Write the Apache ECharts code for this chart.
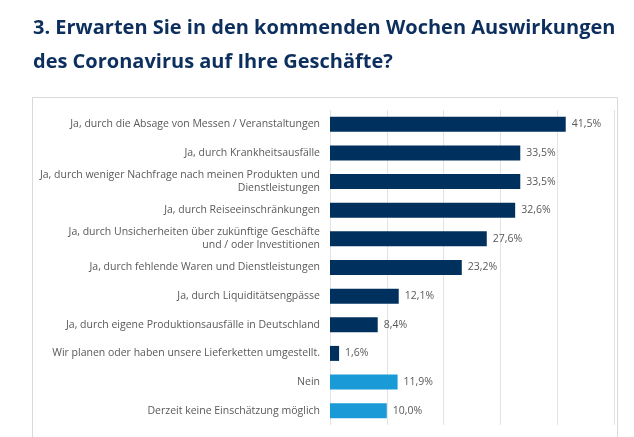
<!DOCTYPE html>
<html>
<head>
<meta charset="utf-8">
<script src="https://cdn.jsdelivr.net/npm/echarts@6/dist/echarts.min.js"></script>
<style>
html, body { margin: 0; padding: 0; background: #fff; }
#chart { width: 634px; height: 437px; }
</style>
</head>
<body>
<div id="chart"></div>
<script>
var categories = [
    "Ja, durch die Absage von Messen / Veranstaltungen",
    "Ja, durch Krankheitsausfälle",
    "Ja, durch weniger Nachfrage nach meinen Produkten und\nDienstleistungen",
    "Ja, durch Reiseeinschränkungen",
    "Ja, durch Unsicherheiten über zukünftige Geschäfte\nund / oder Investitionen",
    "Ja, durch fehlende Waren und Dienstleistungen",
    "Ja, durch Liquiditätsengpässe",
    "Ja, durch eigene Produktionsausfälle in Deutschland",
    "Wir planen oder haben unsere Lieferketten umgestellt.",
    "Nein",
    "Derzeit keine Einschätzung möglich"
];
var values = [41.5, 33.5, 33.5, 32.6, 27.6, 23.2, 12.1, 8.4, 1.6, 11.9, 10.0];
var lightIdx = [9, 10];

var dark = '#00305e';
var light = '#1a9bd7';
var font = '"Liberation Sans Narrow", "Open Sans", sans-serif';

var data = values.map(function (v, i) {
    return { value: v, itemStyle: { color: lightIdx.indexOf(i) >= 0 ? light : dark } };
});

var chart = echarts.init(document.getElementById('chart'));
chart.setOption({
    animation: false,
    title: {
        text: '3. Erwarten Sie in den kommenden Wochen Auswirkungen\ndes Coronavirus auf Ihre Geschäfte?',
        left: 28, top: 6,
        textStyle: { color: '#0d2f5e', fontSize: 20, fontWeight: 'bold', lineHeight: 34, fontFamily: '"Open Sans", sans-serif' }
    },
    graphic: [{
        type: 'rect', left: 30, top: 95,
        shape: { width: 585, height: 360 },
        style: { fill: 'none', stroke: '#d9d9d9', lineWidth: 1 }
    }],
    grid: { left: 330, right: 20, top: 110, bottom: 12 },
    xAxis: {
        type: 'value', min: 0, max: 50, interval: 10,
        axisLabel: { show: false },
        axisLine: { show: false }, axisTick: { show: false },
        splitLine: { lineStyle: { color: '#e3e3e3' } }
    },
    yAxis: {
        type: 'category', inverse: true, data: categories,
        axisLine: { show: false }, axisTick: { show: false },
        axisLabel: { color: '#595959', fontSize: 10.5, fontFamily: font, lineHeight: 13, margin: 10, align: 'right' }
    },
    series: [{
        type: 'bar', data: data, barWidth: 15,
        label: {
            show: true, position: 'right', distance: 6,
            color: '#595959', fontSize: 10.5, fontFamily: font,
            formatter: function (p) { return p.value.toFixed(1).replace('.', ',') + '%'; }
        }
    }]
});
</script>
</body>
</html>
